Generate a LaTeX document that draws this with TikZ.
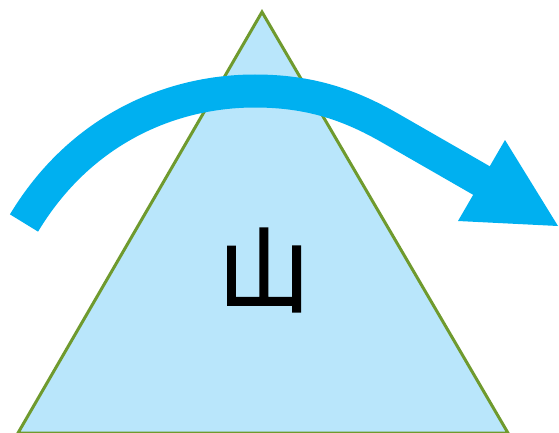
\documentclass[tikz,border=0pt]{standalone}
\usepackage{fontspec}
\newfontfamily\cjk[FakeBold=2]{Noto Sans CJK SC}
\definecolor{arrowblue}{HTML}{00B0F0}
\definecolor{mountfill}{HTML}{B9E6FB}
\definecolor{mountline}{HTML}{6F9A2E}
\tikzset{
  mountain/.style={fill=mountfill, draw=mountline, line width=3pt, line join=miter},
  shaft/.style={draw=arrowblue, line width=33pt},
  headtri/.style={fill=arrowblue},
  label/.style={font=\cjk\fontsize{92}{92}\selectfont, inner sep=0pt}
}
\begin{document}
\begin{tikzpicture}[x=1pt, y=-1pt]
\useasboundingbox (0,0) rectangle (559,433);
\fill[white] (0,0) rectangle (559,433);
\coordinate (apex) at (262,12);
\coordinate (bl) at (18,433);
\coordinate (br) at (508,433);
\draw[mountain] (bl) -- (apex) -- (br) -- cycle;
\node[label] (m) at (264,270) {山};
\coordinate (tail) at (24,223);
\coordinate (peak) at (255,91);
\coordinate (bend) at (390,128);
\coordinate (neck) at (484,182);
\draw[shaft] (tail) .. controls (80,130) and (170,91) .. (peak) .. controls (310,91) and (350,105) .. (bend) -- (neck);
\coordinate (h1) at (505,140);
\coordinate (h2) at (558,226);
\coordinate (h3) at (458,221);
\fill[headtri] (h1) -- (h2) -- (h3) -- cycle;
\end{tikzpicture}
\end{document}
